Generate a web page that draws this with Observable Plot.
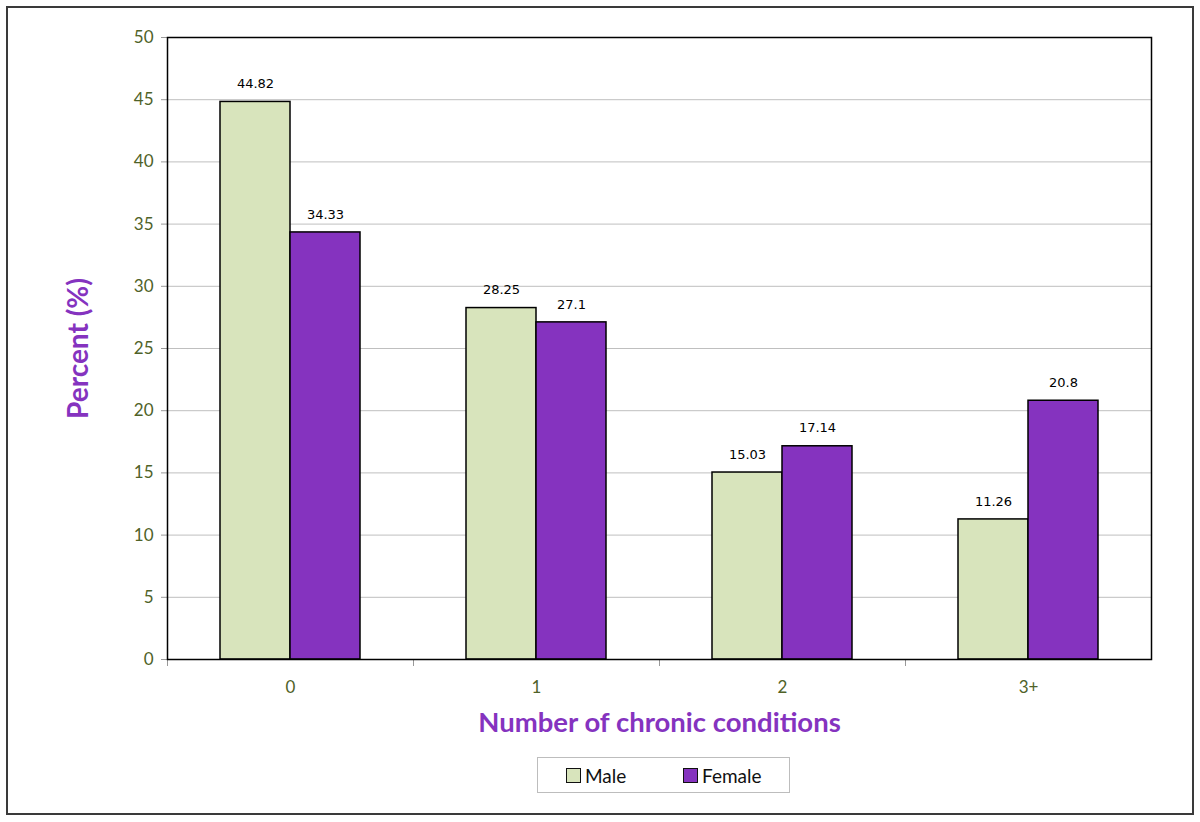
<!DOCTYPE html>
<html>
<head>
<meta charset="utf-8">
<script src="https://cdn.jsdelivr.net/npm/d3@7"></script>
<script src="https://cdn.jsdelivr.net/npm/@observablehq/plot@0.6"></script>
<style>
  body { margin: 0; background: #fff; }
  #wrap { position: relative; width: 1200px; height: 822px; overflow: hidden; background:#fff; }
  #border { position: absolute; left: 6px; top: 6px; width: 1184px; height: 805px; border: 2px solid #3a3a3a; pointer-events:none; }
  #chart { position: absolute; left: 0; top: 0; }
  #legend { position: absolute; left: 537px; top: 757px; width: 251px; height: 34px; border: 1px solid #bdbdbd;
            font-family: Lato, "Open Sans", sans-serif; font-size: 19px; color: #111; display:flex; align-items:center; }
  .item { display:flex; align-items:center; position:absolute; }
  .sw { width: 13px; height: 13px; border: 1.5px solid #111; margin-right: 4px; }
</style>
</head>
<body>
<div id="wrap">
  <div id="chart"></div>
  <div id="legend"></div>
  <div id="border"></div>
</div>
<script>
const categories = ["0", "1", "2", "3+"];
const series = ["Male", "Female"];
const maleValues = [44.82, 28.25, 15.03, 11.26];
const femaleValues = [34.33, 27.1, 17.14, 20.8];
const colors = ["#d8e4bc", "#8533bf"];
const yTicks = [0, 5, 10, 15, 20, 25, 30, 35, 40, 45, 50];

const data = [];
categories.forEach((c, i) => {
  data.push({cat: c, sex: "Male", value: maleValues[i]});
  data.push({cat: c, sex: "Female", value: femaleValues[i]});
});

const purple = "#8533bf";
const olive = "#4f6228";

const chart = Plot.plot({
  width: 1200,
  height: 745,
  marginLeft: 165,
  marginRight: 48,
  marginTop: 37,
  marginBottom: 86,
  style: {fontFamily: "Lato, 'Open Sans', sans-serif", background: "transparent"},
  fx: {domain: categories, padding: 0, label: null, axis: null},
  x: {domain: series, paddingInner: 0, paddingOuter: 0.75, axis: null},
  y: {domain: [0, 50], label: null},
  color: {domain: series, range: colors},
  marks: [
    Plot.gridY(yTicks, {stroke: "#bfbfbf", strokeOpacity: 1, strokeWidth: 1}),
    Plot.axisY(yTicks, {tickSize: 6, tickPadding: 8, stroke: "#999", fill: olive, fontSize: 17, label: null}),
    Plot.axisY([], {label: "Percent (%)", labelArrow: "none", labelAnchor: "center", labelOffset: 99, fill: purple, fontSize: 28, fontWeight: "bold", tickSize: 0}),
    Plot.axisFx({anchor: "bottom", tickSize: 0, tickPadding: 21, fill: olive, fontSize: 17, label: null}),
    Plot.axisFx([], {anchor: "bottom", label: "Number of chronic conditions", labelArrow: "none", labelAnchor: "center", labelOffset: 72, fill: purple, fontSize: 27.5, fontWeight: "bold", tickSize: 0}),
    Plot.barY(data, {fx: "cat", x: "sex", y: "value", fill: "sex", stroke: "#000", strokeWidth: 1.5}),
    Plot.text(data, {fx: "cat", x: "sex", y: "value", text: d => String(d.value), dy: -18, fontSize: 13, fill: "#000", fontFamily: "'DejaVu Sans', sans-serif"}),
    Plot.frame({anchor: "left", stroke: "#999", insetTop: 622, insetBottom: -6}),
    Plot.frame({facet: "super", stroke: "#000", strokeWidth: 1.5})
  ]
});
document.getElementById("chart").appendChild(chart);

const legend = document.getElementById("legend");
const lefts = [28, 145];
series.forEach((s, i) => {
  const it = document.createElement("div");
  it.className = "item";
  it.style.left = lefts[i] + "px";
  const sw = document.createElement("span");
  sw.className = "sw";
  sw.style.background = colors[i];
  const t = document.createElement("span");
  t.textContent = s;
  it.appendChild(sw); it.appendChild(t);
  legend.appendChild(it);
});
</script>
</body>
</html>
